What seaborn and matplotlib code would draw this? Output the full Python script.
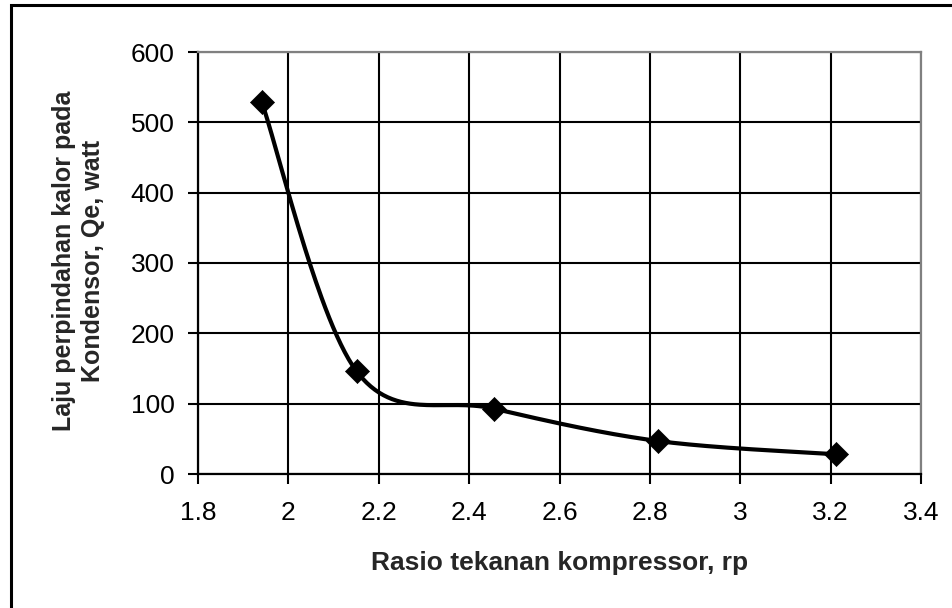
import numpy as np
import pandas as pd
import matplotlib
matplotlib.use("Agg")
import matplotlib.pyplot as plt
from matplotlib.patches import Rectangle
import seaborn as sns

# Data
rasio_rp = [1.941, 2.151, 2.454, 2.817, 3.213]
laju_qe = [529, 146, 93, 47, 28]

x_ticks = [1.8, 2.0, 2.2, 2.4, 2.6, 2.8, 3.0, 3.2, 3.4]
x_tick_labels = ["1.8", "2", "2.2", "2.4", "2.6", "2.8", "3", "3.2", "3.4"]
y_ticks = [0, 100, 200, 300, 400, 500, 600]

x_label = "Rasio tekanan kompressor, rp"
y_label = "Laju perpindahan kalor pada\nKondensor, Qe, watt"


def smooth_curve(xs, ys, n=60):
    # Excel-style smoothed line: Catmull-Rom segments as cubic Bezier curves
    pts = np.column_stack([xs, ys]).astype(float)
    ext = np.vstack([pts[0], pts, pts[-1]])
    out = [pts[0]]
    t = np.linspace(0, 1, n)[1:, None]
    for i in range(1, len(ext) - 2):
        p0, p1, p2, p3 = ext[i - 1], ext[i], ext[i + 1], ext[i + 2]
        c1 = p1 + (p2 - p0) / 6
        c2 = p2 - (p3 - p1) / 6
        seg = ((1 - t) ** 3) * p1 + 3 * ((1 - t) ** 2) * t * c1 + 3 * (1 - t) * t ** 2 * c2 + t ** 3 * p2
        out.extend(seg)
    out = np.array(out)
    return out[:, 0], out[:, 1]


sns.set_style("white")
plt.rcParams["font.family"] = ["Liberation Sans", "DejaVu Sans"]

fig = plt.figure(figsize=(9.53, 6.08), dpi=100)
ax = fig.add_axes([198 / 953, 1 - 474 / 608, 723 / 953, 422 / 608])

# Outer chart frame (only left and top edges fall inside the picture)
fig.patches.append(Rectangle((11.5 / 953, -0.1), 1.2, 1.1 - 5 / 608, transform=fig.transFigure,
                             fill=False, edgecolor="black", linewidth=2.2, zorder=0))

sx, sy = smooth_curve(rasio_rp, laju_qe)
curve = pd.DataFrame({"x": sx, "y": sy})
sns.lineplot(data=curve, x="x", y="y", sort=False, estimator=None, color="black",
             linewidth=3.0, ax=ax, zorder=3)
points = pd.DataFrame({"rp": rasio_rp, "qe": laju_qe})
sns.scatterplot(data=points, x="rp", y="qe", marker="D", s=150, color="black",
                edgecolor="black", linewidth=0.5, ax=ax, zorder=4, clip_on=False)

ax.set_xlim(1.8, 3.4)
ax.set_ylim(0, 600)
ax.set_xticks(x_ticks)
ax.set_xticklabels(x_tick_labels)
ax.set_yticks(y_ticks)

ax.grid(True, color="black", linewidth=1.5)
ax.set_axisbelow(True)
for side in ["left", "bottom"]:
    ax.spines[side].set_color("black")
    ax.spines[side].set_linewidth(1.6)
for side in ["top", "right"]:
    ax.spines[side].set_color("#808080")
    ax.spines[side].set_linewidth(1.6)

ax.tick_params(axis="both", which="major", direction="out", length=7, width=1.5,
               color="black", labelsize=19, labelcolor="black")
ax.tick_params(axis="y", pad=10, left=True)
ax.tick_params(axis="x", pad=12.5, bottom=True)

ax.set_xlabel(x_label, fontsize=19, fontweight="bold", labelpad=19)
ax.set_ylabel(y_label, fontsize=18, fontweight="bold", linespacing=1.3)
ax.yaxis.set_label_coords(-0.128, 0.505)

fig.savefig("out.png", dpi=100)
